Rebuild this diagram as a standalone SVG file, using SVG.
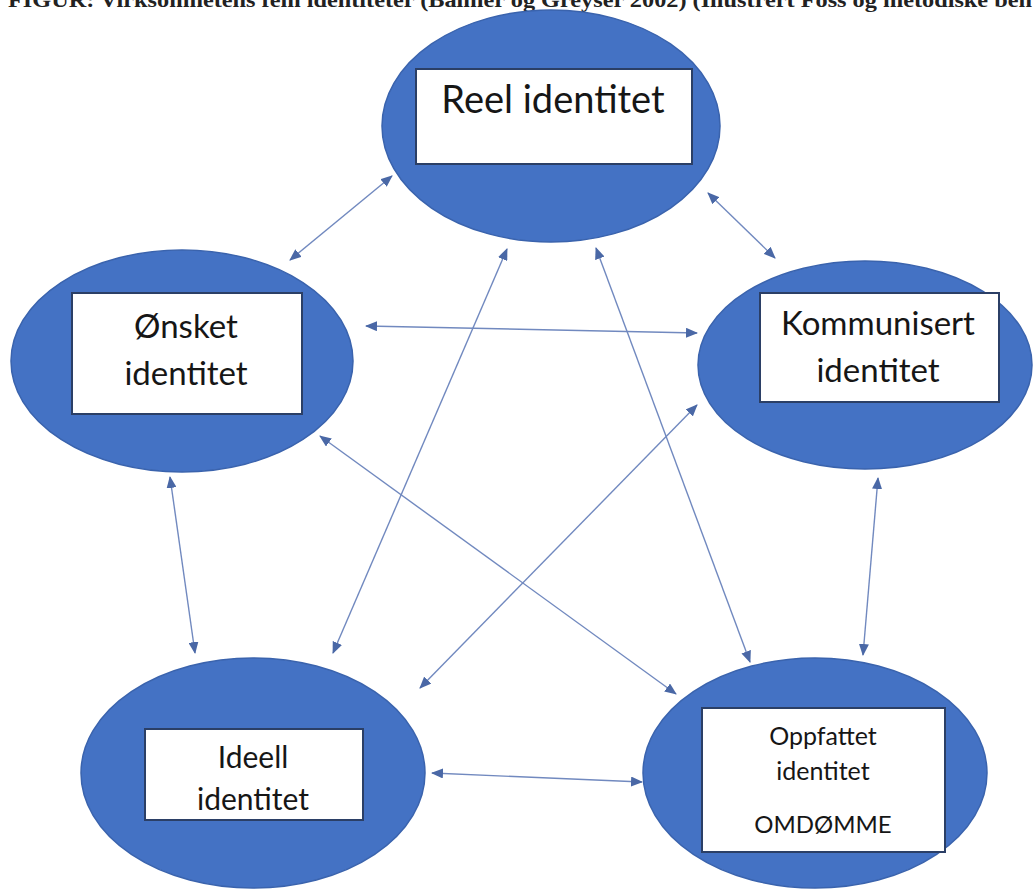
<svg xmlns="http://www.w3.org/2000/svg" width="1034" height="889" viewBox="0 0 1034 889">
<defs>
<style>
.ell{fill:#4472C4;stroke:#3a63ad;stroke-width:1.5}
.box{fill:#ffffff;stroke:#2b3f66;stroke-width:2}
.lbl{font-family:Lato,"Liberation Sans",sans-serif;fill:#161616;text-anchor:middle}
.con{stroke:#7189bf;stroke-width:1.4;fill:none;marker-start:url(#ah);marker-end:url(#ah)}
.hdr{font-family:"Liberation Serif",serif;font-weight:bold;font-size:21px;fill:#222}
</style>
<marker id="ah" viewBox="0 0 12 10" refX="11" refY="5" markerWidth="12" markerHeight="10" markerUnits="userSpaceOnUse" orient="auto-start-reverse">
<path d="M0,0 L12,5 L0,10 z" fill="#4a68a6"/>
</marker>
</defs>
<rect width="1034" height="889" fill="#ffffff"/>
<text class="hdr" x="8" y="7" textLength="1024" lengthAdjust="spacingAndGlyphs">FIGUR: Virksomhetens fem identiteter (Balmer og Greyser 2002) (Illustrert Foss og metodiske beh</text>

<g id="connectors">
<line class="con" x1="392" y1="176" x2="290" y2="260"/>
<line class="con" x1="708" y1="193" x2="775" y2="258"/>
<line class="con" x1="366" y1="326" x2="697" y2="333"/>
<line class="con" x1="507" y1="249" x2="333" y2="653"/>
<line class="con" x1="596" y1="248" x2="750" y2="662"/>
<line class="con" x1="170" y1="477" x2="195" y2="653"/>
<line class="con" x1="878" y1="478" x2="863" y2="655"/>
<line class="con" x1="320" y1="436" x2="676" y2="694"/>
<line class="con" x1="697" y1="405" x2="420" y2="688"/>
<line class="con" x1="432" y1="773" x2="642" y2="782"/>
</g>

<g id="node-reel">
<ellipse class="ell" cx="551" cy="126" rx="169" ry="116"/>
<rect class="box" x="416" y="69" width="276" height="95"/>
<text class="lbl" x="553" y="113" font-size="38">Reel identitet</text>
</g>

<g id="node-onsket">
<ellipse class="ell" cx="182" cy="361" rx="171" ry="111"/>
<rect class="box" x="72" y="293" width="230" height="121"/>
<text class="lbl" x="186" y="338" font-size="33">Ønsket</text>
<text class="lbl" x="186" y="385" font-size="33">identitet</text>
</g>

<g id="node-kommunisert">
<ellipse class="ell" cx="865" cy="365" rx="167" ry="104"/>
<rect class="box" x="760" y="293" width="239" height="109"/>
<text class="lbl" x="878" y="335" font-size="33">Kommunisert</text>
<text class="lbl" x="878" y="382" font-size="33">identitet</text>
</g>

<g id="node-ideell">
<ellipse class="ell" cx="253" cy="773" rx="172" ry="115"/>
<rect class="box" x="145" y="729" width="218" height="91"/>
<text class="lbl" x="253" y="768" font-size="30">Ideell</text>
<text class="lbl" x="253" y="810" font-size="30">identitet</text>
</g>

<g id="node-oppfattet">
<ellipse class="ell" cx="815" cy="773" rx="172" ry="115"/>
<rect class="box" x="702" y="708" width="243" height="144"/>
<text class="lbl" x="823" y="745" font-size="25">Oppfattet</text>
<text class="lbl" x="823" y="780" font-size="25">identitet</text>
<text class="lbl" x="823" y="833" font-size="24">OMDØMME</text>
</g>
</svg>
